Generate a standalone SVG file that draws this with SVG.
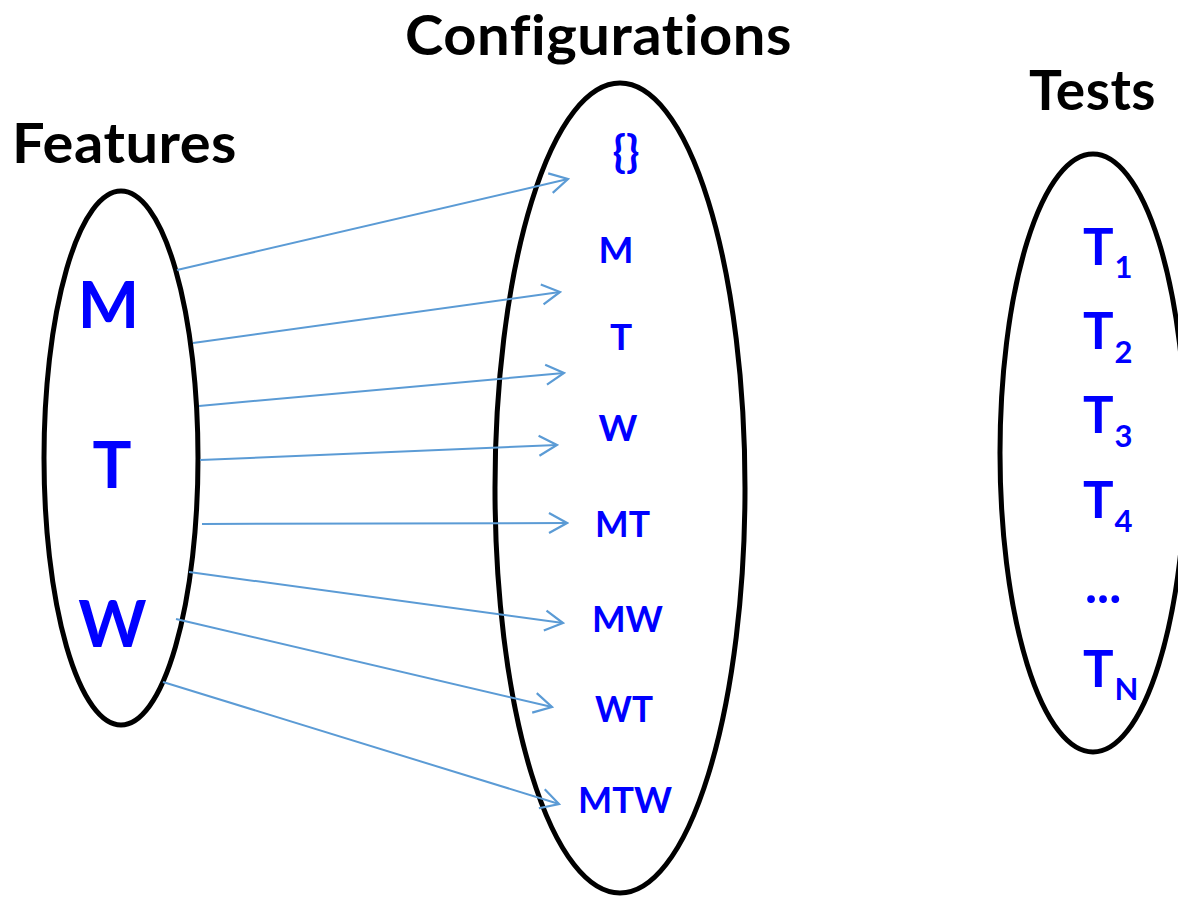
<svg xmlns="http://www.w3.org/2000/svg" width="1178" height="901" viewBox="0 0 1178 901">
  <style>
    text { font-variant-ligatures: none; font-feature-settings: "liga" 0, "clig" 0, "dlig" 0; }
    .set { fill: none; stroke: #000; stroke-width: 5; }
    .title { font-family: Lato, "Open Sans", "Liberation Sans", sans-serif; font-weight: bold; font-size: 56px; fill: #000; letter-spacing: 0.5px; }
    .lbl { font-family: Lato, "Open Sans", "Liberation Sans", sans-serif; font-weight: bold; fill: #0000ff; text-anchor: middle; }
    .feat { font-size: 65px; }
    .conf { font-size: 37px; }
    .test { font-family: Lato, "Open Sans", "Liberation Sans", sans-serif; font-weight: bold; fill: #0000ff; font-size: 51px; }
    .sub { font-size: 31px; }
    .link { fill: none; stroke: #5b9bd5; stroke-width: 2; marker-end: url(#open); }
  </style>
  <defs>
    <marker id="open" markerUnits="userSpaceOnUse" viewBox="-22 -12 24 24" refX="0" refY="0" markerWidth="24" markerHeight="24" orient="auto">
      <path d="M-18,-10 L0,0 L-18,10" fill="none" stroke="#5b9bd5" stroke-width="2.2"/>
    </marker>
  </defs>
  <rect width="1178" height="901" fill="#fff"/>

  <!-- set titles -->
  <g id="titles">
    <text class="title" x="12" y="163" textLength="225" lengthAdjust="spacingAndGlyphs">Features</text>
    <text class="title" x="405" y="55" textLength="387" lengthAdjust="spacingAndGlyphs">Configurations</text>
    <text class="title" x="1029" y="110" textLength="127" lengthAdjust="spacingAndGlyphs">Tests</text>
  </g>

  <!-- feature set -->
  <g id="features">
    <ellipse class="set" cx="121" cy="458" rx="77" ry="267"/>
    <g id="feat-M"><text class="lbl feat" x="108.5" y="328">M</text></g>
    <g id="feat-T"><text class="lbl feat" x="112" y="488">T</text></g>
    <g id="feat-W"><text class="lbl feat" x="112.5" y="647">W</text></g>
  </g>

  <!-- configuration set -->
  <g id="configurations">
    <ellipse class="set" cx="620" cy="488" rx="125" ry="405"/>
    <g id="conf-empty"><text class="lbl" x="626" y="167" font-size="44">{}</text></g>
    <g id="conf-M"><text class="lbl conf" x="616" y="263">M</text></g>
    <g id="conf-T"><text class="lbl conf" x="621" y="350">T</text></g>
    <g id="conf-W"><text class="lbl conf" x="618" y="441">W</text></g>
    <g id="conf-MT"><text class="lbl conf" x="622.5" y="537" textLength="55" lengthAdjust="spacingAndGlyphs">MT</text></g>
    <g id="conf-MW"><text class="lbl conf" x="627.5" y="632" textLength="71" lengthAdjust="spacingAndGlyphs">MW</text></g>
    <g id="conf-WT"><text class="lbl conf" x="624" y="722" textLength="58" lengthAdjust="spacingAndGlyphs">WT</text></g>
    <g id="conf-MTW"><text class="lbl conf" x="625" y="813" textLength="94" lengthAdjust="spacingAndGlyphs">MTW</text></g>
  </g>

  <!-- test set -->
  <g id="tests">
    <ellipse class="set" cx="1093" cy="453" rx="93" ry="299"/>
    <g id="test-1"><text class="test" x="1083" y="265">T<tspan class="sub" dx="1" dy="13">1</tspan></text></g>
    <g id="test-2"><text class="test" x="1083" y="349">T<tspan class="sub" dx="1" dy="14">2</tspan></text></g>
    <g id="test-3"><text class="test" x="1083" y="433">T<tspan class="sub" dx="1" dy="14">3</tspan></text></g>
    <g id="test-4"><text class="test" x="1083" y="518">T<tspan class="sub" dx="1" dy="14">4</tspan></text></g>
    <g id="test-dots"><text class="test" x="1085" y="603">...</text></g>
    <g id="test-N"><text class="test" x="1083" y="687">T<tspan class="sub" dx="1" dy="13">N</tspan></text></g>
  </g>

  <!-- feature-to-configuration connectors -->
  <g id="connectors">
    <line class="link" x1="177" y1="270" x2="568" y2="179"/>
    <line class="link" x1="193" y1="343" x2="560" y2="292"/>
    <line class="link" x1="199" y1="406" x2="564" y2="373"/>
    <line class="link" x1="200" y1="460" x2="557" y2="445"/>
    <line class="link" x1="202" y1="524" x2="567" y2="523"/>
    <line class="link" x1="189" y1="572" x2="563" y2="623"/>
    <line class="link" x1="176" y1="619" x2="552" y2="707"/>
    <line class="link" x1="163" y1="682" x2="559" y2="804"/>
  </g>
</svg>
